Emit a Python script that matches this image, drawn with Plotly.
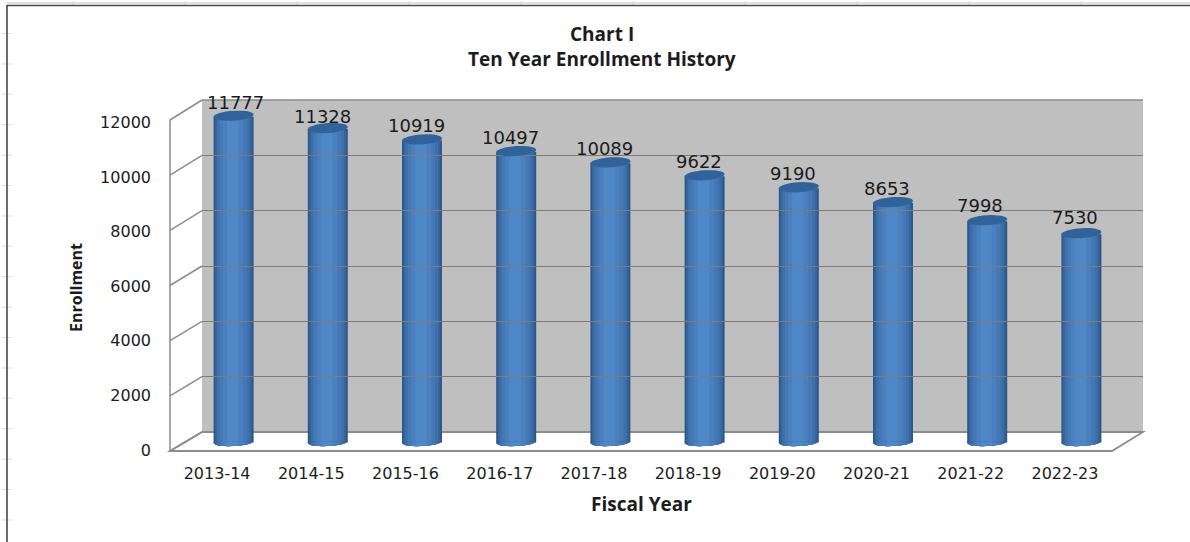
import math
import plotly.graph_objects as go

# Enrollment by fiscal year
fiscal_years = ["2013-14", "2014-15", "2015-16", "2016-17", "2017-18",
                "2018-19", "2019-20", "2020-21", "2021-22", "2022-23"]
enrollment = [11777, 11328, 10919, 10497, 10089, 9622, 9190, 8653, 7998, 7530]
y_ticks = [0, 2000, 4000, 6000, 8000, 10000, 12000]

W, H = 1190, 542
FONT = "'DejaVu Sans', sans-serif"
BOLD = "'Open Sans', sans-serif"
TEXT = "#1c1c1c"
EDGE = "#8c8c8c"
WALL = "#bfbfbf"


def px(x):
    return x / W


def py(y):
    return 1 - y / H


# Pixel extents of the three depth planes of the pseudo-3D box
FRONT = dict(x0=170, x1=1112, y0=451, y1=120)
MID = dict(x0=186.5, x1=1128.5, y0=442.5, y1=110.5)
BACK = dict(x0=202, x1=1143, y0=432, y1=100)
# Enrollment tick labels sit slightly inside the front edge
LABELS = dict(x0=170, x1=1112, y0=450, y1=122.5)

# The bar plane reaches a little below zero so the rounded bases are not clipped
MID_PAD_PX = 20
mid_pad_units = MID_PAD_PX * 12000 / (MID["y0"] - MID["y1"])


def domains(p, pad=0):
    return [px(p["x0"]), px(p["x1"])], [py(p["y0"] + pad), py(p["y1"])]


def plane_y(p, v):
    return p["y0"] + (p["y1"] - p["y0"]) * v / 12000


def path(points):
    return "M " + " L ".join(f"{px(x):.5f},{py(y):.5f}" for x, y in points)


def pixel_path(points):
    return "M " + " L ".join(f"{x:.2f},{y:.2f}" for x, y in points) + " Z"


BAR_PX = 40
half = BAR_PX / 2
SLOT_PX = (MID["x1"] - MID["x0"]) / len(fiscal_years)

# Cylinder shading: nested bands, lightest slightly left of centre
bands = [(1.00, "#2c5789"), (0.92, "#36659c"), (0.82, "#3e70ab"),
         (0.68, "#4678b6"), (0.50, "#4b80bf"), (0.28, "#5088c7")]
LIGHT_SHIFT_PX = 1.5


def band_span(frac):
    shift = LIGHT_SHIFT_PX * (1 - frac)
    return -frac * half - shift, frac * half - shift


fig = go.Figure()

for frac, colour in bands:
    left, right = band_span(frac)
    fig.add_trace(go.Bar(
        x=fiscal_years, y=enrollment, xaxis="x2", yaxis="y2",
        width=(right - left) / SLOT_PX, offset=left / SLOT_PX,
        marker=dict(color=colour, line_width=0),
        showlegend=False, hoverinfo="skip" if frac < 1 else None,
    ))

# Invisible traces keep the front axes (labels) and back wall (gridlines) alive
for xa, ya in (("x", "y"), ("x3", "y3")):
    fig.add_trace(go.Scatter(x=fiscal_years, y=[0] * len(fiscal_years), xaxis=xa, yaxis=ya,
                             mode="markers", marker=dict(opacity=0), showlegend=False,
                             hoverinfo="skip"))

shapes = []

# Back wall with its top edge
shapes.append(dict(type="rect", xref="paper", yref="paper", layer="below",
                   x0=px(BACK["x0"]), x1=px(BACK["x1"]), y0=py(BACK["y0"]), y1=py(BACK["y1"]),
                   fillcolor=WALL, line_width=0))
shapes.append(dict(type="line", xref="paper", yref="paper", layer="below",
                   x0=px(BACK["x0"]), x1=px(BACK["x1"]), y0=py(BACK["y1"]), y1=py(BACK["y1"]),
                   line=dict(color=EDGE, width=1.5)))
# Floor outline and the side wall's front edge
shapes.append(dict(type="path", xref="paper", yref="paper", layer="below",
                   path=path([(BACK["x0"], BACK["y0"]), (FRONT["x0"], FRONT["y0"]),
                              (FRONT["x1"], FRONT["y0"]), (BACK["x1"], BACK["y0"]),
                              (BACK["x0"], BACK["y0"])]),
                   line=dict(color=EDGE, width=1.8)))
shapes.append(dict(type="line", xref="paper", yref="paper", layer="below",
                   x0=px(FRONT["x0"]), x1=px(FRONT["x0"]),
                   y0=py(FRONT["y0"]), y1=py(FRONT["y1"]),
                   line=dict(color=EDGE, width=1.5)))
# Side wall diagonals at every tick
for v in y_ticks:
    shapes.append(dict(type="line", xref="paper", yref="paper", layer="below",
                       x0=px(FRONT["x0"]), y0=py(plane_y(FRONT, v)),
                       x1=px(BACK["x0"]), y1=py(plane_y(BACK, v)),
                       line=dict(color=EDGE, width=1.5)))

# Cylinder caps, given as pixel offsets around each bar's data position
BASE_DEPTH = 3.5
BASE_TILT = 0.05
TOP_RY = 5.0
TOP_TILT = 0.06
TOP_LIFT = 1.0


def base_strip(left, right, steps=10):
    def arc(x):
        return -BASE_DEPTH * math.sqrt(max(0, 1 - (x / half) ** 2)) + BASE_TILT * x
    xs = [left + (right - left) * i / steps for i in range(steps + 1)]
    return pixel_path([(left, 1)] + [(x, arc(x)) for x in xs] + [(right, 1)])


def top_cap(steps=32):
    pts = []
    for i in range(steps):
        t = 2 * math.pi * i / steps
        x = half * math.cos(t)
        pts.append((x, TOP_RY * math.sin(t) + TOP_TILT * x + TOP_LIFT))
    return pixel_path(pts)


for year, value in zip(fiscal_years, enrollment):
    for frac, colour in bands:
        shapes.append(dict(type="path", xref="x2", yref="y2",
                           xsizemode="pixel", ysizemode="pixel",
                           xanchor=year, yanchor=0, path=base_strip(*band_span(frac)),
                           fillcolor=colour, line_width=0, layer="above"))
    shapes.append(dict(type="path", xref="x2", yref="y2",
                       xsizemode="pixel", ysizemode="pixel",
                       xanchor=year, yanchor=value, path=top_cap(),
                       fillcolor="#31639b", line_width=0, layer="above"))

# Page frame: dark rule on the top and left, with faint stubs along it
shapes.append(dict(type="line", xref="paper", yref="paper", x0=px(7), x1=1, y0=py(3), y1=py(3),
                   line=dict(color="#d4d4d4", width=1.5)))
shapes.append(dict(type="line", xref="paper", yref="paper", x0=px(7), x1=1, y0=py(5.5), y1=py(5.5),
                   line=dict(color="#4a4a4a", width=1.5)))
shapes.append(dict(type="line", xref="paper", yref="paper", x0=px(7), x1=px(7), y0=0, y1=py(5),
                   line=dict(color="#3c3c3c", width=1.5)))
for k in range(17):
    y = 33.5 + 30.4 * k
    shapes.append(dict(type="line", xref="paper", yref="paper", x0=px(2), x1=px(12),
                       y0=py(y), y1=py(y), line=dict(color="#dcdcdc", width=1), layer="below"))
for k in range(10):
    x = 73 + 112 * k
    shapes.append(dict(type="line", xref="paper", yref="paper", x0=px(x), x1=px(x),
                       y0=py(1), y1=py(5), line=dict(color="#dcdcdc", width=1), layer="below"))

# Value labels above the cylinders, nudged individually to clear neighbours
label_dx = [2, -5, -6, -6, -6, -6, -6, -6, -7, -6]
label_dy = [14, 13, 15, 15, 15, 15, 15, 15, 16, 17]
annotations = [dict(x=year, y=value, xref="x2", yref="y2", text=str(value), showarrow=False,
                    xanchor="center", yanchor="middle", xshift=dx, yshift=dy,
                    font=dict(family=FONT, size=18, color=TEXT))
               for year, value, dx, dy in zip(fiscal_years, enrollment, label_dx, label_dy)]


def title(x, y, text, size, **kw):
    return dict(x=px(x), y=py(y), xref="paper", yref="paper", text=f"<b>{text}</b>",
                showarrow=False, xanchor="center", yanchor="middle",
                font=dict(family=BOLD, size=size, color=TEXT), **kw)


# Chart and axis titles
annotations += [
    title(602, 34, "Chart I", 19),
    title(602, 59, "Ten Year Enrollment History", 19),
    title(641, 504, "Fiscal Year", 19),
    title(76, 288, "Enrollment", 16, textangle=-90),
]

fx, fy = domains(LABELS)
mx, my = domains(MID, MID_PAD_PX)
bx, by = domains(BACK)
cat_range = [-0.5, len(fiscal_years) - 0.5]
cat_axis = dict(type="category", categoryorder="array", categoryarray=fiscal_years,
                range=cat_range)
tick_axis = dict(tickmode="array", tickvals=y_ticks, zeroline=False, tickformat="d")

fig.update_layout(
    width=W, height=H, autosize=False,
    margin=dict(l=0, r=0, t=0, b=0, autoexpand=False),
    paper_bgcolor="white", plot_bgcolor="rgba(0,0,0,0)",
    barmode="overlay", showlegend=False,
    xaxis=dict(domain=fx, anchor="y", showgrid=False, showline=False, ticks="",
               ticklabelstandoff=12, tickfont=dict(family=FONT, size=16, color=TEXT), **cat_axis),
    yaxis=dict(domain=fy, anchor="x", range=[0, 12000], showgrid=False, showline=False, ticks="",
               ticklabelstandoff=18, tickfont=dict(family=FONT, size=16, color=TEXT), **tick_axis),
    xaxis2=dict(domain=mx, anchor="y2", visible=False, **cat_axis),
    yaxis2=dict(domain=my, anchor="x2", range=[-mid_pad_units, 12000], visible=False, **tick_axis),
    xaxis3=dict(domain=bx, anchor="y3", visible=False, **cat_axis),
    yaxis3=dict(domain=by, anchor="x3", range=[0, 12000], showgrid=True, gridcolor="#7c7c7c",
                gridwidth=1.3, showticklabels=False, ticks="", showline=False, **tick_axis),
    shapes=shapes,
    annotations=annotations,
)

fig.write_html("out.html", config=dict(displayModeBar=False))
